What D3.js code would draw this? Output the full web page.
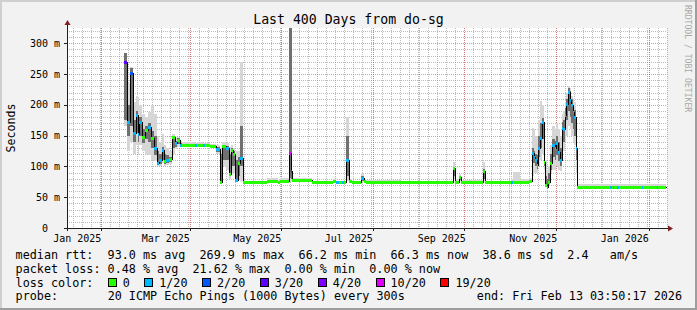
<!DOCTYPE html>
<html><head><meta charset="utf-8">
<script src="https://cdn.jsdelivr.net/npm/d3@7"></script>
<style>
html,body{margin:0;padding:0;background:#f2f2f2;}
svg{display:block;}
text{font-family:"DejaVu Sans Mono",monospace;}
</style></head><body>
<svg id="chart" width="697" height="310"></svg>
<script>
// ---------- data ----------
const titleText = "Last 400 Days from do-sg";
const endTime = Date.UTC(2026, 1, 13, 3, 50, 17);
const spanDays = 400;

const yTickValues = [0, 50, 100, 150, 200, 250, 300];
const yTickLabels = ["0", "50 m", "100 m", "150 m", "200 m", "250 m", "300 m"];
const xLabelDates = ["2025-01-01", "2025-03-01", "2025-05-01", "2025-07-01", "2025-09-01", "2025-11-01", "2026-01-01"];
const xLabelTexts = ["Jan 2025", "Mar 2025", "May 2025", "Jul 2025", "Sep 2025", "Nov 2025", "Jan 2026"];
const majorGridDates = ["2025-02-01", "2025-04-01", "2025-06-01", "2025-08-01", "2025-10-01", "2025-12-01", "2026-02-01"];

// days since start of graph (2025-01-09 03:50:17 UTC)
const days = [38.0,39.7,41.7,44.0,45.7,47.0,48.3,50.0,52.0,54.0,56.0,58.0,59.7,61.3,63.0,64.7,66.3,68.0,70.0,71.7,73.3,75.0,
  76.7,85.3,86.7,90.7,92.0,95.3,99.3,101.7,103.3,106.0,107.7,109.0,110.7,112.3,113.7,115.3,117.0,118.7,133.3,140.7,142.0,
  148.0,149.3,150.3,163.3,177.3,179.3,181.3,183.3,184.7,186.3,188.0,190.0,196.0,197.7,199.3,222.0,
  257.3,258.7,261.3,262.7,277.3,278.7,296.0,297.3,302.0,308.0,
  309.7,311.0,312.0,313.0,314.0,315.3,316.7,317.7,318.7,319.7,320.7,322.0,323.0,324.0,325.3,326.3,327.3,328.7,329.7,330.7,
  331.7,332.7,334.0,335.0,336.0,337.0,338.3,339.3,340.3,362.0,363.0,364.0,365.0,366.7,367.7,383.3,384.3,393.3,394.3,399.3];
// median rtt in ms
const median = [270,172,251,155,183,152,172,148,159,164,146,130,106,110,126,108,110,112,147,138,143,135,
  135,134,135,134,134,133,128,75,133,130,88,127,120,78,105,113,75,74,77,75,77,
  122,92,78,74,76,74,74,74,74,110,76,74,81,77,75,74,
  97,75,83,75,93,74,75,75,75,77,
  121,116,110,102,130,146,172,107,70,67,74,105,135,135,130,138,124,110,162,160,
  183,202,221,208,199,189,180,130,67,67,67,67,67,67,67,67,67,67,67,67];
// loss level index (0 = 0, 1 = 1/20, 2 = 2/20, 3 = 3/20, 4 = 4/20, 5 = 10/20, 6 = 19/20)
const lossIdx = [3,1,2,1,1,1,1,0,0,1,0,1,1,1,1,0,1,0,0,1,0,1,
  0,1,0,1,0,0,1,0,0,1,0,0,0,1,0,1,0,0,0,0,0,
  5,4,0,0,0,1,0,1,0,1,0,0,1,0,0,0,
  0,0,0,0,0,0,1,0,0,0,
  1,1,1,0,1,1,1,0,0,1,0,0,1,1,1,1,1,1,1,1,
  1,1,1,1,1,1,1,1,0,1,0,1,0,1,0,1,0,1,0,0];
// smoke (spread of the 20 pings), ms
const smokeMin = [165,125,140,120,135,118,135,125,120,118,110,108,100,100,105,101,102,104,120,128,132,131,
  133,132,133,132,132,131,120,72,100,95,80,90,90,75,80,76,73,73,75,74,75,
  75,75,76,73,74,73,73,73,73,76,74,73,74,74,73,73,
  80,74,76,73,76,73,73,74,74,75,
  85,90,90,90,100,110,120,95,66,65,70,90,95,95,95,100,95,92,120,125,
  140,150,165,160,150,140,135,90,65,65,65,65,65,65,65,65,65,65,65,65];
const smokeMax = [284,235,262,205,215,212,200,185,180,188,200,185,150,140,152,135,130,125,152,146,148,142,
  139,138,139,138,138,137,135,130,140,138,132,135,130,125,125,270,80,77,82,78,81,
  330,330,82,77,79,77,77,77,77,180,80,77,90,80,78,77,
  107,80,88,78,107,77,80,91,80,82,
  162,160,150,150,175,207,200,160,110,95,100,135,165,165,160,170,160,150,185,190,
  205,220,230,228,215,210,205,180,71,71,71,71,71,71,71,71,71,71,71,71];
// dense core of the smoke, ms (null = none)
const coreMin = [175,150,165,140,155,140,150,138,145,140,130,118,103,104,110,104,105,107,130,132,136,133,
  null,null,null,null,null,null,124,75,110,110,85,100,100,77,85,100,null,null,null,null,null,
  82,80,null,null,null,null,null,null,null,85,null,null,76,null,null,null,
  85,null,78,null,80,null,null,null,null,null,
  105,105,100,96,115,130,145,100,68,66,72,95,115,115,110,118,108,100,140,140,
  160,175,190,180,170,160,150,110,null,null,null,null,null,null,null,null,null,null,null,null];
const coreMax = [284,200,260,175,190,170,180,160,165,170,158,150,125,120,132,120,118,116,149,142,146,138,
  null,null,null,null,null,null,132,120,135,133,120,130,125,110,115,165,null,null,null,null,null,
  330,330,null,null,null,null,null,null,null,150,null,null,84,null,null,null,
  99,null,85,null,96,null,null,null,null,null,
  130,125,120,118,150,170,178,130,85,80,90,120,145,145,142,150,140,130,172,175,
  195,210,228,222,210,200,192,160,null,null,null,null,null,null,null,null,null,null,null,null];

const lossLabels = ["0", "1/20", "2/20", "3/20", "4/20", "10/20", "19/20"];
const lossColors = ["#26ff00", "#00b8ff", "#0059ff", "#5e00ff", "#7e00ff", "#dd00ff", "#ff0000"];
const rttStats = ["93.0 ms avg", "269.9 ms max", "66.2 ms min", "66.3 ms now", "38.6 ms sd", "2.4   am/s"];
const lossStats = ["0.48 % avg", "21.62 % max", "0.00 % min", "0.00 % now"];
const probeText = "20 ICMP Echo Pings (1000 Bytes) every 300s";
const endText = "end: Fri Feb 13 03:50:17 2026";
const watermark = "RRDTOOL / TOBI OETIKER";
const yAxisTitle = "Seconds";

// ---------- layout ----------
const W = 697, H = 310;
const plot = {left: 67, right: 667, top: 28, bottom: 228};
const startTime = endTime - spanDays * 864e5;
const dayToDate = d => new Date(startTime + d * 864e5);
const nb = s => s.replace(/ /g, "\u00a0");

const x = d3.scaleUtc().domain([new Date(startTime), new Date(endTime)]).range([plot.left, plot.right]);
const y = d3.scaleLinear().domain([0, 324.8]).range([plot.bottom, plot.top]);

const svg = d3.select("#chart");
const px = v => Math.round(v);

// background & frame shading
svg.append("rect").attr("width", W).attr("height", H).attr("fill", "#f2f2f2");
svg.append("path").attr("d", `M0,0H${W}V2H2V${H}H0Z`).attr("fill", "#cfcfcf");
svg.append("path").attr("d", `M${W},${H}H0V${H-2}H${W-2}V0H${W}Z`).attr("fill", "#9e9e9e");
svg.append("rect").attr("x", plot.left).attr("y", plot.top)
  .attr("width", plot.right - plot.left).attr("height", plot.bottom - plot.top).attr("fill", "#ffffff");

// ---------- grid ----------
const grid = svg.append("g").attr("shape-rendering", "crispEdges");
const minorY = d3.range(10, 325, 10).filter(v => v % 50 !== 0);
grid.selectAll(".hy").data(minorY).join("line")
  .attr("x1", plot.left).attr("x2", plot.right)
  .attr("y1", d => px(y(d)) + 0.5).attr("y2", d => px(y(d)) + 0.5)
  .attr("stroke", "rgba(143,143,143,0.6)").attr("stroke-dasharray", "1,1");
const minorX = d3.utcDay.every(6).range(new Date(startTime), new Date(endTime));
grid.selectAll(".vx").data(minorX).join("line")
  .attr("y1", plot.top).attr("y2", plot.bottom)
  .attr("x1", d => px(x(d)) + 0.5).attr("x2", d => px(x(d)) + 0.5)
  .attr("stroke", "rgba(143,143,143,0.6)").attr("stroke-dasharray", "1,1");
grid.selectAll(".my").data(yTickValues.slice(1)).join("line")
  .attr("x1", plot.left).attr("x2", plot.right)
  .attr("y1", d => px(y(d)) + 0.5).attr("y2", d => px(y(d)) + 0.5)
  .attr("stroke", "rgba(222,79,79,0.6)").attr("stroke-dasharray", "1,1");
grid.selectAll(".mx").data(majorGridDates).join("line")
  .attr("y1", plot.top).attr("y2", plot.bottom)
  .attr("x1", d => px(x(new Date(d + "T00:00:00Z"))) + 0.5).attr("x2", d => px(x(new Date(d + "T00:00:00Z"))) + 0.5)
  .attr("stroke", "rgba(222,79,79,0.6)").attr("stroke-dasharray", "1,1");

// ---------- data marks ----------
const pts = days.map((d, i) => ({
  t0: dayToDate(d), t1: dayToDate(i < days.length - 1 ? days[i + 1] : d),
  med: median[i], loss: lossIdx[i], sMin: smokeMin[i], sMax: smokeMax[i], cMin: coreMin[i], cMax: coreMax[i]
})).slice(0, -1);
const clipMax = v => Math.min(v, 324.8);
const gSmoke = svg.append("g").attr("shape-rendering", "crispEdges");
const gLine = svg.append("g");
const gMed = svg.append("g").attr("shape-rendering", "crispEdges");
gSmoke.selectAll(".smoke").data(pts).join("rect")
  .attr("x", d => px(x(d.t0))).attr("width", d => Math.max(1, px(x(d.t1)) - px(x(d.t0))))
  .attr("y", d => px(y(clipMax(d.sMax)))).attr("height", d => Math.max(1, px(y(d.sMin)) - px(y(clipMax(d.sMax)))))
  .attr("fill", "#d6d6d6");
gSmoke.selectAll(".core").data(pts.filter(d => d.cMin != null)).join("rect")
  .attr("x", d => px(x(d.t0))).attr("width", d => Math.max(1, px(x(d.t1)) - px(x(d.t0))))
  .attr("y", d => px(y(clipMax(d.cMax)))).attr("height", d => Math.max(1, px(y(d.cMin)) - px(y(clipMax(d.cMax)))))
  .attr("fill", "#707070");

const medLine = d3.line().curve(d3.curveStepAfter)
  .x(d => px(x(d.t)) + 0.5).y(d => px(y(d.v)) + 0.5);
const lineData = days.map((d, i) => ({t: dayToDate(d), v: median[i]}));
gLine.append("path").attr("d", medLine(lineData)).attr("fill", "none").attr("stroke", "#000").attr("stroke-width", 1)
  .attr("shape-rendering", "crispEdges");

gMed.selectAll(".med").data(pts).join("rect")
  .attr("x", d => px(x(d.t0))).attr("width", d => Math.max(1, px(x(d.t1)) - px(x(d.t0))))
  .attr("y", d => px(y(d.med)) - 1).attr("height", 3)
  .attr("fill", d => lossColors[d.loss]);

// ---------- axes ----------
const axis = svg.append("g").attr("shape-rendering", "crispEdges");
axis.append("line").attr("x1", plot.left - 3).attr("x2", plot.right + 2).attr("y1", plot.bottom + 0.5).attr("y2", plot.bottom + 0.5)
  .attr("stroke", "#1f1f1f");
axis.append("line").attr("x1", plot.left + 0.5).attr("x2", plot.left + 0.5).attr("y1", plot.bottom + 3).attr("y2", plot.top - 4)
  .attr("stroke", "#1f1f1f");
svg.append("path").attr("d", `M${plot.right + 1},${plot.bottom - 2.5}L${plot.right + 6},${plot.bottom + 0.5}L${plot.right + 1},${plot.bottom + 3.5}Z`)
  .attr("fill", "#801f1f");
svg.append("path").attr("d", `M${plot.left - 2.5},${plot.top - 3}L${plot.left + 0.5},${plot.top - 8}L${plot.left + 3.5},${plot.top - 3}Z`)
  .attr("fill", "#801f1f");
axis.selectAll(".yt").data(yTickValues).join("line")
  .attr("x1", plot.left - 3).attr("x2", plot.left).attr("y1", d => px(y(d)) + 0.5).attr("y2", d => px(y(d)) + 0.5)
  .attr("stroke", "#1f1f1f");
axis.selectAll(".xt").data(majorGridDates).join("line")
  .attr("y1", plot.bottom).attr("y2", plot.bottom + 3)
  .attr("x1", d => px(x(new Date(d + "T00:00:00Z"))) + 0.5).attr("x2", d => px(x(new Date(d + "T00:00:00Z"))) + 0.5)
  .attr("stroke", "#1f1f1f");

svg.selectAll(".yl").data(yTickValues).join("text")
  .attr("x", 60).attr("y", d => y(d) + 3.5)
  .attr("text-anchor", "end").attr("font-size", 10)
  .text((d, i) => nb(yTickLabels[i].includes(" ") ? yTickLabels[i] : yTickLabels[i] + "  "));
svg.selectAll(".xl").data(xLabelDates).join("text")
  .attr("x", d => x(new Date(new Date(d + "T00:00:00Z").getTime() + 15 * 864e5)))
  .attr("y", 242).attr("text-anchor", "middle").attr("font-size", 10)
  .text((d, i) => nb(xLabelTexts[i]));

svg.append("text").attr("x", W / 2).attr("y", 24).attr("text-anchor", "middle").attr("font-size", 13.2).text(nb(titleText));
svg.append("text").attr("transform", `translate(15,128) rotate(-90)`).attr("text-anchor", "middle")
  .attr("font-size", 11.6).text(yAxisTitle);
svg.append("text").attr("transform", `translate(685,5) rotate(90)`).attr("text-anchor", "start")
  .attr("font-size", 8.1).attr("fill", "#a8a8a8").text(nb(watermark));

// ---------- legend ----------
const LF = 11.76, L0 = 15.6, CW = 7.08;
const leg = svg.append("g").attr("font-size", LF);
leg.append("text").attr("x", L0).attr("y", 259).text(nb("median rtt:  " + rttStats.join("  ")));
leg.append("text").attr("x", L0).attr("y", 273).text(nb("packet loss: " + lossStats.join("  ")));
leg.append("text").attr("x", L0).attr("y", 287).text(nb("loss color:"));
let bx = L0 + 13 * CW;
lossLabels.forEach((lab, i) => {
  leg.append("rect").attr("x", px(bx) + 0.5).attr("y", 278.5).attr("width", 8).attr("height", 8)
    .attr("fill", lossColors[i]).attr("stroke", "#000").attr("stroke-width", 1).attr("shape-rendering", "crispEdges");
  leg.append("text").attr("x", bx + 15).attr("y", 287).text(lab);
  bx = bx + 15 + lab.length * CW + 14.5;
});
leg.append("text").attr("x", L0).attr("y", 300).text(nb("probe:"));
leg.append("text").attr("x", L0 + 13 * CW).attr("y", 300).text(nb(probeText));
leg.append("text").attr("x", 682).attr("y", 300).attr("text-anchor", "end").text(nb(endText));
</script>
</body></html>
